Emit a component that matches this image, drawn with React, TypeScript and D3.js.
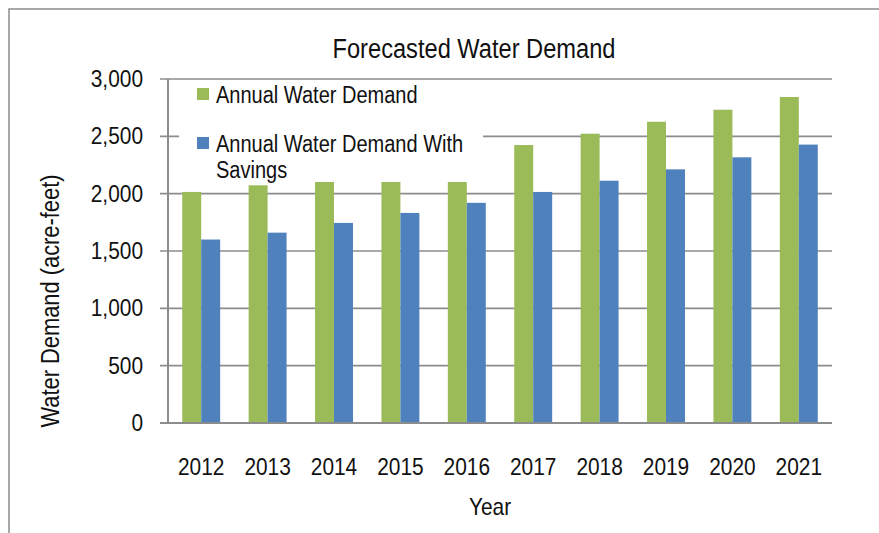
import React from 'react';
import * as d3 from 'd3';

const years = ['2012', '2013', '2014', '2015', '2016', '2017', '2018', '2019', '2020', '2021'];
const annualDemand = [2015, 2073, 2102, 2102, 2102, 2424, 2523, 2627, 2732, 2843];
const demandWithSavings = [1600, 1660, 1745, 1832, 1920, 2015, 2113, 2212, 2317, 2428];
const seriesNames = ['Annual Water Demand', 'Annual Water Demand With Savings'];
const seriesColors = ['#9bbb59', '#4f81bd'];
const yTicks = [0, 500, 1000, 1500, 2000, 2500, 3000];

const font = "'Liberation Sans', Arial, sans-serif";
const grid = '#8c8c8c';

// narrow text: no condensed font installed, so squeeze Liberation Sans horizontally
const Txt = ({ x, y, size = 24, sx = 0.87, anchor = 'start', rotate = 0, children }: any) => (
    <text
        transform={`translate(${x},${y}) rotate(${rotate}) scale(${sx},1)`}
        textAnchor={anchor}
        fontSize={size}
        fill="#111"
    >
        {children}
    </text>
);

const App = () => {
    const width = 879;
    const height = 533;
    const left = 168;
    const right = 832;
    const top = 79;
    const bottom = 423;

    const x = d3.scaleBand().domain(years).range([left, right]);
    const inner = d3.scaleBand().domain(seriesNames).range([0, x.bandwidth()]).paddingOuter(0.75);
    const y = d3.scaleLinear().domain([0, 3000]).range([bottom, top]);
    const fmt = d3.format(',');

    const series = [annualDemand, demandWithSavings];

    return (
        <svg width={width} height={height} style={{ position: 'absolute', left: 0, top: 0 }} fontFamily={font}>
            <rect x={0} y={0} width={width} height={height} fill="#fff" />
            {/* chart frame, only top and left edges are inside the picture */}
            <rect x={9} y={9} width={1000} height={1000} fill="none" stroke={grid} strokeWidth={1.5} />

            <Txt x={474} y={58} size={28} sx={0.845} anchor="middle">Forecasted Water Demand</Txt>

            {/* gridlines and y ticks */}
            {yTicks.map(t => (
                <g key={t}>
                    <line x1={160} x2={right} y1={y(t)} y2={y(t)} stroke={grid} strokeWidth={t === 0 ? 2 : 1.6} />
                    <Txt x={143} y={y(t) + 8} anchor="end">{fmt(t)}</Txt>
                </g>
            ))}
            <line x1={left} x2={left} y1={top} y2={bottom} stroke={grid} strokeWidth={2} />

            {/* legend box covers the gridlines behind it */}
            <rect x={179} y={82} width={304} height={104} fill="#fff" />
            <rect x={197} y={88} width={12} height={12} fill={seriesColors[0]} />
            <Txt x={216} y={103} size={23}>{seriesNames[0]}</Txt>
            <rect x={197} y={137} width={12} height={12} fill={seriesColors[1]} />
            <Txt x={216} y={152} size={23}>Annual Water Demand With</Txt>
            <Txt x={216} y={178} size={23}>Savings</Txt>

            {/* bars */}
            {years.map((yr, i) => (
                <g key={yr} transform={`translate(${x(yr)},0)`}>
                    {series.map((s, j) => (
                        <rect
                            key={j}
                            x={inner(seriesNames[j])}
                            y={y(s[i])}
                            width={inner.bandwidth()}
                            height={bottom - y(s[i])}
                            fill={seriesColors[j]}
                        />
                    ))}
                    <Txt x={x.bandwidth() / 2} y={475} anchor="middle">{yr}</Txt>
                </g>
            ))}
            <line x1={left} x2={right} y1={bottom} y2={bottom} stroke={grid} strokeWidth={2} />

            <Txt x={490} y={515} anchor="middle">Year</Txt>
            <Txt x={59} y={301} size={25} sx={0.875} rotate={-90} anchor="middle">Water Demand (acre-feet)</Txt>
        </svg>
    );
};

export default App;
